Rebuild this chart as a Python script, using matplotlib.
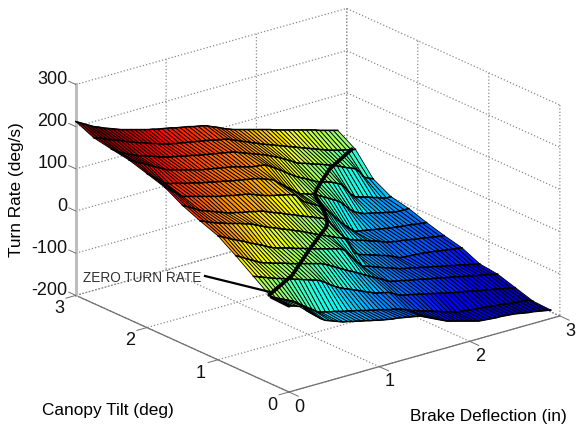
import numpy as np
import matplotlib
matplotlib.use("Agg")
import matplotlib.pyplot as plt
from matplotlib.colors import LinearSegmentedColormap
from matplotlib.lines import Line2D
from mpl_toolkits.mplot3d import proj3d

plt.rcParams['font.family'] = ['Liberation Sans', 'DejaVu Sans']
plt.rcParams['axes.unicode_minus'] = False

brake = [0.05 * i for i in range(59)]
tilt = [3.0, 2.75, 2.5, 2.25, 2.0, 1.75, 1.5, 1.25, 1.0, 0.75, 0.5, 0.25, 0.0]

rate_t300 = [212,206,200,194,188,184,179,175,171,167,163,160,157,154,151,148,145,143,140,138,136,134,131,129,127,125,122,120,118,115,110,106,101,96,92,88,85,82,79,76,73,70,67,64,60,57,54,51,48,45,42,39,36,33,29,26,23,20,17]
rate_t275 = [193,189,185,180,176,172,168,163,159,155,151,148,144,140,137,133,130,127,125,123,121,119,117,115,113,111,109,106,104,102,99,94,90,85,81,76,72,67,63,59,55,51,47,43,39,35,31,27,23,19,15,11,7,4,1,-2,-4,-7,-9]
rate_t250 = [185,178,171,166,161,156,151,148,144,141,137,133,130,127,125,123,120,118,116,113,111,109,107,105,103,101,99,97,93,89,85,81,77,73,69,64,59,54,48,42,36,29,25,22,18,14,11,7,3,-1,-5,-10,-15,-19,-24,-35,-50,-55,-60]
rate_t225 = [178,172,166,161,155,149,143,138,132,128,125,122,119,116,113,110,107,105,103,101,99,97,95,93,90,87,84,81,79,78,76,71,64,57,50,42,35,28,22,17,11,5,0,-3,-6,-10,-15,-21,-34,-49,-59,-63,-66,-69,-73,-76,-80,-83,-83]
rate_t200 = [165,157,148,140,131,126,124,121,118,115,113,110,107,105,103,100,98,96,93,91,89,87,85,83,81,78,74,70,66,57,49,40,32,23,15,12,8,5,-1,-7,-13,-19,-25,-33,-44,-55,-64,-69,-74,-76,-79,-81,-84,-86,-89,-91,-92,-92,-92]
rate_t175 = [152,143,135,126,118,115,112,109,106,103,100,97,94,92,90,87,85,83,81,78,74,70,66,63,60,58,55,53,50,46,33,24,18,12,6,0,-12,-24,-36,-48,-59,-69,-79,-81,-83,-85,-87,-89,-91,-93,-95,-96,-98,-99,-100,-102,-103,-105,-106]
rate_t150 = [128,122,116,110,104,100,96,92,88,84,80,77,75,72,70,68,65,63,60,55,51,47,43,38,34,30,25,21,17,13,8,4,0,-17,-32,-45,-57,-64,-68,-72,-75,-79,-83,-86,-90,-94,-97,-99,-101,-102,-104,-106,-108,-109,-111,-113,-115,-116,-118]
rate_t125 = [110,106,101,97,93,90,86,83,80,77,73,70,65,60,55,50,46,42,37,33,29,24,20,15,10,5,0,-5,-9,-14,-19,-23,-28,-44,-67,-74,-78,-81,-85,-88,-92,-95,-99,-104,-109,-111,-112,-112,-113,-114,-115,-117,-118,-120,-122,-123,-125,-126,-128]
rate_t100 = [94,88,83,77,72,67,62,56,51,46,41,35,30,26,23,20,17,13,10,7,3,0,-3,-6,-9,-12,-15,-18,-24,-37,-50,-62,-74,-77,-81,-85,-89,-93,-96,-100,-104,-107,-109,-111,-114,-116,-119,-121,-123,-126,-128,-130,-133,-135,-137,-140,-142,-145,-147]
rate_t075 = [66,60,54,48,42,36,31,28,24,21,18,15,11,8,5,2,-1,-4,-7,-10,-15,-21,-27,-33,-39,-45,-50,-56,-62,-68,-74,-80,-85,-91,-97,-100,-102,-104,-107,-109,-111,-113,-116,-118,-120,-122,-125,-127,-129,-131,-134,-136,-138,-141,-143,-145,-147,-150,-152]
rate_t050 = [36,32,28,24,20,16,13,9,6,2,-1,-5,-8,-12,-15,-20,-27,-35,-42,-48,-53,-57,-62,-66,-71,-76,-80,-85,-87,-90,-92,-98,-104,-108,-110,-112,-115,-117,-120,-122,-125,-127,-130,-132,-135,-137,-139,-141,-143,-146,-148,-150,-152,-154,-156,-159,-161,-163,-165]
rate_t025 = [6,1,-4,-9,-14,-19,-27,-35,-43,-50,-58,-63,-65,-68,-70,-73,-76,-78,-81,-83,-86,-89,-91,-94,-96,-99,-102,-104,-107,-110,-114,-119,-122,-126,-129,-132,-136,-139,-143,-146,-149,-153,-154,-155,-157,-158,-159,-160,-161,-163,-164,-165,-166,-168,-169,-170,-171,-173,-178]
rate_t000 = [4,1,-3,-6,-20,-29,-38,-47,-54,-58,-62,-66,-70,-72,-75,-77,-80,-82,-85,-87,-90,-92,-94,-96,-97,-99,-101,-103,-105,-107,-112,-117,-122,-127,-132,-137,-140,-143,-146,-149,-152,-155,-158,-159,-160,-161,-162,-162,-163,-164,-165,-167,-169,-171,-172,-174,-176,-178,-180]

zero_brake = [2.82, 2.37, 1.985, 1.88, 1.753, 1.594, 1.49, 1.03, 0.505, 0.056]
zero_tilt = [2.70, 2.44, 2.13, 2.03, 1.765, 1.49, 1.36, 1.015, 0.60, 0.35]
zero_rate = [0] * 10

edge_brake = [0.0, 0.0]
edge_tilt = [0.25, 0.0]
edge_rate = [6, 4]

rate_rows = [rate_t300, rate_t275, rate_t250, rate_t225, rate_t200, rate_t175, rate_t150,
             rate_t125, rate_t100, rate_t075, rate_t050, rate_t025, rate_t000]

x_ticks = [0, 1, 2, 3]
y_ticks = [0, 1, 2, 3]
z_ticks = [-200, -100, 0, 100, 200, 300]

matlab_jet = LinearSegmentedColormap.from_list('matlab_jet', [
    (0.0, (0, 0, 0.5)), (0.125, (0, 0, 1)), (0.375, (0, 1, 1)),
    (0.625, (1, 1, 0)), (0.875, (1, 0, 0)), (1.0, (0.5, 0, 0))], N=64)

W, H = 579, 428
fig = plt.figure(figsize=(W / 100, H / 100), dpi=100, facecolor='white')
ax = fig.add_axes([0, 0, 1, 1], projection='3d', proj_type='ortho', computed_zorder=False)
ax.view_init(elev=20.9, azim=-128.2)
ax.set_xlim(0, 3); ax.set_ylim(0, 3); ax.set_zlim(-200, 300)
ax.set_xticks(x_ticks); ax.set_yticks(y_ticks); ax.set_zticks(z_ticks)
ax.patch.set_alpha(0)

for axis in (ax.xaxis, ax.yaxis, ax.zaxis):
    axis.set_pane_color((1, 1, 1, 0))
    axis.pane.set_edgecolor((1, 1, 1, 0))
    axis._axinfo['grid'].update(color='#8c8c8c', linestyle=':', linewidth=0.9)
    axis._axinfo['tick'].update(inward_factor=0.0, outward_factor=0.0)
    axis.line.set_color('#707070')
    axis.line.set_linewidth(0.9)
ax.zaxis.line.set_color('#bdbdbd')
ax.zaxis.line.set_linewidth(2.2)
ax.tick_params(axis='x', pad=0.0, labelsize=13, colors='#111111', color='#707070')
ax.tick_params(axis='y', pad=2.0, labelsize=13, colors='#111111', color='#707070')
ax.tick_params(axis='z', pad=-5.3, labelsize=13, colors='#111111', color='#707070')

X, Y = np.meshgrid(brake, tilt)
Z = np.array(rate_rows, dtype=float)
surf = ax.plot_surface(X, Y, Z, rstride=1, cstride=1, cmap=matlab_jet, vmin=-190, vmax=185,
                       edgecolor='#000000', linewidth=0.62, shade=False, antialiased=True, zorder=2)
surf.set_clip_on(False)
for t, row in zip(tilt, rate_rows):
    ln, = ax.plot(brake, [t] * len(brake), row, color='black', lw=1.1, zorder=3)
    ln.set_clip_on(False)
ln, = ax.plot(zero_brake, zero_tilt, zero_rate, color='black', lw=2.7, zorder=4, solid_capstyle='round')
ln.set_clip_on(False)
ln, = ax.plot(edge_brake, edge_tilt, edge_rate, color='black', lw=2.4, zorder=4, solid_capstyle='round')
ln.set_clip_on(False)

# MATLAB-style tick stubs continuing the grid lines past the box
stub = dict(color='#707070', lw=0.7, zorder=1)
for v in x_ticks:
    ax.plot([v, v], [0, -0.13], [-200, -200], **stub)[0].set_clip_on(False)
for v in y_ticks:
    ax.plot([0, -0.11], [v, v], [-200, -200], **stub)[0].set_clip_on(False)
for v in z_ticks:
    ax.plot([0, 0], [3, 3.1], [v, v], **stub)[0].set_clip_on(False)


def to_px(x, y, z):
    xs, ys, _ = proj3d.proj_transform(x, y, z, ax.get_proj())
    return ax.transData.transform((xs, ys))


# fit the axes box to the reference frame
zoom = 1.0
ax.set_box_aspect((1, 1, 0.655), zoom=zoom)
fig.canvas.draw()
a = to_px(0, 3, -200); b = to_px(3, 0, -200)
zoom *= (560 - 76) / (b[0] - a[0])
ax.set_box_aspect((1, 1, 0.655), zoom=zoom)
fig.canvas.draw()
c = to_px(0, 0, -200)
pos = ax.get_position(original=True)
dx = (289 - c[0]) / W
dy = ((H - 392) - c[1]) / H
ax.set_position([pos.x0 + dx, pos.y0 + dy, pos.width, pos.height])
ax.zaxis.set_ticks_position('upper')

for t in ax.get_zticklabels():
    t.set_ha('right'); t.set_va('baseline')
for t in ax.get_xticklabels():
    t.set_ha('center'); t.set_va('center')
for t in ax.get_yticklabels():
    t.set_ha('center'); t.set_va('baseline')

fig.text(17 / W, 1 - 190 / H, 'Turn Rate (deg/s)', rotation=90, ha='center', va='center', fontsize=12.4)
fig.text(108 / W, 1 - 411 / H, 'Canopy Tilt (deg)', ha='center', va='center', fontsize=12.4)
fig.text(488 / W, 1 - 416 / H, 'Brake Deflection (in)', ha='center', va='center', fontsize=12.4)
fig.text(142 / W, 1 - 278 / H, 'ZERO TURN RATE', ha='center', va='center', fontsize=9.8, color='#333333')
fig.add_artist(Line2D([205 / W, 270 / W], [1 - 276 / H, 1 - 292 / H], color='black', lw=1.6,
                      transform=fig.transFigure))

fig.savefig('out.png', dpi=100)
